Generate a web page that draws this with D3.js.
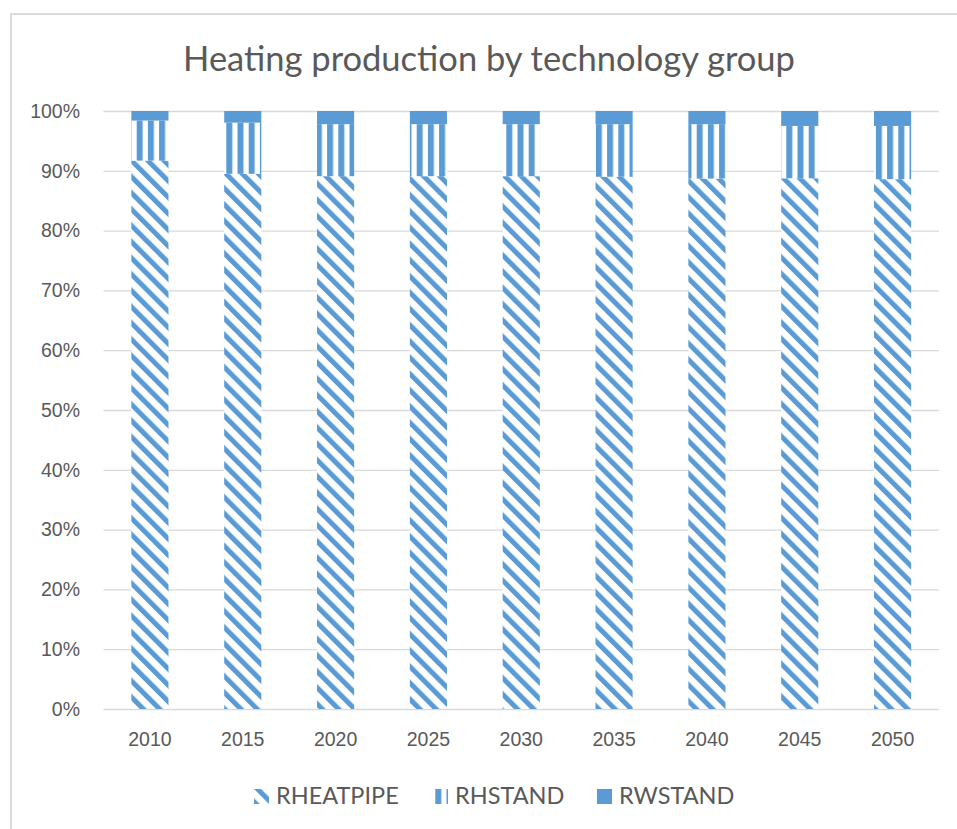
<!DOCTYPE html>
<html>
<head>
<meta charset="utf-8">
<script src="https://cdn.jsdelivr.net/npm/d3@7"></script>
<style>
  html, body { margin: 0; padding: 0; background: #fff; }
  svg { display: block; font-family: Lato, 'Open Sans', sans-serif; }
</style>
</head>
<body>
<div id="chart"></div>
<script>
const years = ['2010', '2015', '2020', '2025', '2030', '2035', '2040', '2045', '2050']
const rheatpipe = [91.7, 89.5, 89.1, 89.1, 89.1, 89.0, 88.7, 88.75, 88.6]
const rhstand = [6.7, 8.55, 8.7, 8.7, 8.7, 8.8, 9.1, 8.75, 8.9]
const rwstand = [1.6, 1.95, 2.2, 2.2, 2.2, 2.2, 2.2, 2.5, 2.5]
const seriesNames = ['RHEATPIPE', 'RHSTAND', 'RWSTAND']
const yTicks = [0, 0.1, 0.2, 0.3, 0.4, 0.5, 0.6, 0.7, 0.8, 0.9, 1]

const blue = '#5b9bd5'
const textColor = '#595959'
const gridColor = '#d9d9d9'

const W = 957
const H = 829
const plot = { left: 103.5, right: 939, top: 111, bottom: 709 }

const rows = years.map((y, i) => ({
  year: y,
  RHEATPIPE: rheatpipe[i],
  RHSTAND: rhstand[i],
  RWSTAND: rwstand[i]
}))

const stacked = d3.stack()
  .keys(seriesNames)
  .offset(d3.stackOffsetExpand)(rows)

const svg = d3.select('#chart')
  .append('svg')
  .attr('width', W)
  .attr('height', H)

// patterns
const defs = svg.append('defs')

const diag = defs.append('pattern')
  .attr('id', 'pat-diag')
  .attr('patternUnits', 'userSpaceOnUse')
  .attr('width', 11.5)
  .attr('height', 11.5)
  .attr('patternTransform', 'rotate(-45)')
diag.append('rect').attr('width', 11.5).attr('height', 11.5).attr('fill', '#fff')
diag.append('rect').attr('width', 5).attr('height', 11.5).attr('fill', blue)

const vert = defs.append('pattern')
  .attr('id', 'pat-vert')
  .attr('patternUnits', 'userSpaceOnUse')
  .attr('x', 136.7)
  .attr('width', 11.2)
  .attr('height', 10)
vert.append('rect').attr('width', 11.2).attr('height', 10).attr('fill', '#fff')
vert.append('rect').attr('width', 6).attr('height', 10).attr('fill', blue)

const fills = {
  RHEATPIPE: 'url(#pat-diag)',
  RHSTAND: 'url(#pat-vert)',
  RWSTAND: blue
}

// chart frame
svg.append('rect')
  .attr('x', 11)
  .attr('y', 14)
  .attr('width', 980)
  .attr('height', 840)
  .attr('fill', 'none')
  .attr('stroke', gridColor)
  .attr('stroke-width', 2)

const x = d3.scaleBand()
  .domain(years)
  .range([plot.left, plot.right])
  .paddingInner(0.6)
  .paddingOuter(0.3)

const y = d3.scaleLinear()
  .domain([0, 1])
  .range([plot.bottom, plot.top])

// gridlines + y labels
const yAxis = svg.append('g')
  .attr('transform', `translate(${plot.left},0)`)
  .call(d3.axisLeft(y)
    .tickValues(yTicks)
    .tickFormat(d3.format('.0%'))
    .tickSize(-(plot.right - plot.left))
    .tickPadding(23.5))
yAxis.select('.domain').remove()
yAxis.selectAll('.tick line')
  .attr('stroke', gridColor)
  .attr('stroke-width', 1.3)
yAxis.selectAll('.tick text')
  .attr('fill', textColor)
  .style('font-size', '19.5px')

// bars
svg.append('g')
  .selectAll('g')
  .data(stacked)
  .join('g')
  .attr('fill', d => fills[d.key])
  .selectAll('rect')
  .data(d => d)
  .join('rect')
  .attr('x', d => x(d.data.year))
  .attr('y', d => y(d[1]))
  .attr('width', x.bandwidth())
  .attr('height', d => y(d[0]) - y(d[1]))

// x labels
const xAxis = svg.append('g')
  .attr('transform', `translate(0,${plot.bottom})`)
  .call(d3.axisBottom(x).tickSize(0).tickPadding(23))
xAxis.select('.domain').remove()
xAxis.selectAll('.tick text')
  .attr('fill', textColor)
  .style('font-size', '19.5px')

// title
svg.append('text')
  .attr('x', 489)
  .attr('y', 71)
  .attr('text-anchor', 'middle')
  .attr('fill', textColor)
  .style('font-size', '34.5px')
  .text('Heating production by technology group')

// legend
const legendItems = [
  { key: 'RHEATPIPE', mx: 254 },
  { key: 'RHSTAND', mx: 433 },
  { key: 'RWSTAND', mx: 597 }
]
const legend = svg.append('g')
  .selectAll('g')
  .data(legendItems)
  .join('g')
  .attr('transform', d => `translate(${d.mx},789)`)
legend.append('rect')
  .attr('width', 15)
  .attr('height', 15)
  .attr('fill', d => fills[d.key])
legend.append('text')
  .attr('x', 22)
  .attr('y', 15)
  .attr('fill', textColor)
  .style('font-size', '23.5px')
  .text(d => d.key)
</script>
</body>
</html>
